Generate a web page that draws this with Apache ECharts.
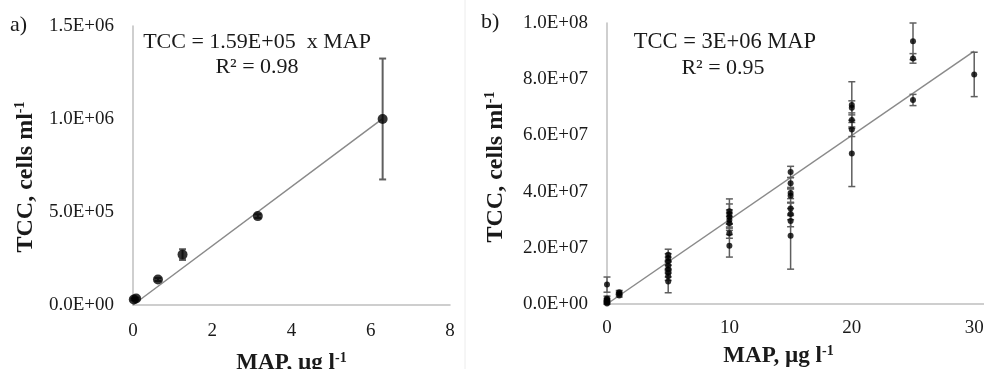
<!DOCTYPE html>
<html>
<head>
<meta charset="utf-8">
<script src="https://cdn.jsdelivr.net/npm/echarts@6/dist/echarts.min.js"></script>
<style>html,body{margin:0;padding:0;background:#fff;}#c{width:984px;height:369px;}</style>
</head>
<body>
<div id="c"></div>
<script>
// ---- Panel a data ----
const aX   = [0.02, 0.08, 0.63, 1.25, 3.15, 6.3];
const aY   = [3.0e4, 3.5e4, 1.37e5, 2.71e5, 4.78e5, 1.0e6];
const aErr = [5e3, 5e3, 8e3, 2.9e4, 1.0e4, 3.25e5];
const aSlope = 1.59e5;
const aFitX = [0, 6.3];
const aXTicks = [0, 2, 4, 6, 8];

// ---- Panel b data ----
const bX = [0,0,0,0,0,0, 1,1,1,
            5,5,5,5,5,5,5,5,
            10,10,10,10,10,10,10,
            15,15,15,15,15,15,15,15,
            20,20,20,20,20,
            25,25,25,
            30];
const bY = [6.9e6, 2.0e6, 1.5e6, 1.0e6, 0.5e6, 0.2e6, 4.2e6, 3.7e6, 3.0e6,
            17.5e6, 16.4e6, 15.2e6, 13.7e6, 12.4e6, 11.1e6, 9.9e6, 8.0e6,
            33.0e6, 32.0e6, 31.0e6, 29.9e6, 28.7e6, 25.2e6, 20.7e6,
            47.0e6, 43.0e6, 39.5e6, 38.5e6, 34.0e6, 32.0e6, 29.5e6, 24.3e6,
            70.8e6, 69.8e6, 65.5e6, 62.1e6, 53.6e6,
            93.5e6, 87.4e6, 72.6e6,
            81.7e6];
const bErr = [2.7e6, 0.8e6, 0.5e6, 0.5e6, 0.4e6, 0.3e6, 0.6e6, 0.5e6, 0.5e6,
              2.0e6, 1.5e6, 1.5e6, 1.5e6, 1.5e6, 1.5e6, 1.5e6, 4.0e6,
              4.4e6, 3.6e6, 2.5e6, 2.5e6, 2.5e6, 1.8e6, 4.0e6,
              2.0e6, 2.0e6, 2.0e6, 2.5e6, 2.0e6, 2.0e6, 2.0e6, 11.9e6,
              8.3e6, 2.5e6, 2.5e6, 2.5e6, 11.8e6,
              6.5e6, 1.7e6, 2.0e6,
              7.9e6];
const bSlope = 3e6;
const bFitX = [0, 30];

const FONT = 'Liberation Serif';
const TXT = '#1a1a1a';

function sci(v){
  if (v === 0) return '0.0E+00';
  const s = v.toExponential(1).toUpperCase();
  const m = s.match(/^(.*)E([+-])(\d+)$/);
  return m[1] + 'E' + m[2] + (m[3].length < 2 ? '0' + m[3] : m[3]);
}

function errRender(capHalf, lw){
  return function(params, api){
    const x = api.value(0), y = api.value(1), e = api.value(2);
    const t = api.coord([x, y + e]);
    const b = api.coord([x, y - e]);
    const st = {stroke: '#5f5f5f', lineWidth: lw};
    return {type: 'group', children: [
      {type: 'line', shape: {x1: t[0], y1: t[1], x2: b[0], y2: b[1]}, style: st},
      {type: 'line', shape: {x1: t[0]-capHalf, y1: t[1], x2: t[0]+capHalf, y2: t[1]}, style: st},
      {type: 'line', shape: {x1: b[0]-capHalf, y1: b[1], x2: b[0]+capHalf, y2: b[1]}, style: st}
    ]};
  };
}

const axisLineStyle = {show: true, lineStyle: {color: '#bfbfbf', width: 1.5}};
const labelStyle = {color: TXT, fontFamily: FONT, fontSize: 19};
function nameStyle(size, extra){
  return Object.assign({
    color: TXT, fontFamily: FONT, fontWeight: 'bold', fontSize: size,
    rich: {sup: {fontFamily: FONT, fontWeight: 'bold', fontSize: Math.round(size*0.6), verticalAlign: 'top', padding: [0,0,Math.round(size*0.45),0], color: TXT}}
  }, extra || {});
}

const chart = echarts.init(document.getElementById('c'), null, {renderer: 'canvas'});
const option = {
  backgroundColor: '#fff',
  animation: false,
  grid: [
    {left: 133, top: 26, width: 317, height: 279, containLabel: false, outerBoundsMode: 'none'},
    {left: 607, top: 23, right: 0, height: 281, containLabel: false, outerBoundsMode: 'none'}
  ],
  xAxis: [
    {gridIndex: 0, type: 'value', min: aXTicks[0], max: aXTicks[aXTicks.length-1], interval: 2,
     axisLine: axisLineStyle, axisTick: {show: false}, splitLine: {show: false},
     axisLabel: Object.assign({margin: 17}, labelStyle),
     name: 'MAP, µg l{sup|-1}', nameLocation: 'middle', nameGap: 46, nameTextStyle: nameStyle(23)},
    {gridIndex: 1, type: 'value', min: 0, max: 30.8, interval: 10,
     axisLine: axisLineStyle, axisTick: {show: false}, splitLine: {show: false},
     axisLabel: Object.assign({margin: 15, formatter: v => (v % 10 === 0 ? String(v) : '')}, labelStyle),
     name: 'MAP, µg l{sup|-1}', nameLocation: 'middle', nameGap: 40,
     nameTextStyle: nameStyle(23, {padding: [0, 34, 0, 0]})}
  ],
  yAxis: [
    {gridIndex: 0, type: 'value', min: 0, max: 1.5e6, interval: 5e5,
     axisLine: axisLineStyle, axisTick: {show: false}, splitLine: {show: false},
     axisLabel: Object.assign({margin: 19, formatter: sci}, labelStyle),
     name: 'TCC, cells ml{sup|-1}', nameLocation: 'middle', nameGap: 95, nameRotate: 90,
     nameTextStyle: nameStyle(24, {padding: [0, 23, 0, 0]})},
    {gridIndex: 1, type: 'value', min: 0, max: 1e8, interval: 2e7,
     axisLine: axisLineStyle, axisTick: {show: false}, splitLine: {show: false},
     axisLabel: Object.assign({margin: 19, formatter: sci}, labelStyle),
     name: 'TCC, cells ml{sup|-1}', nameLocation: 'middle', nameGap: 99, nameRotate: 90,
     nameTextStyle: nameStyle(24, {padding: [0, 7, 0, 0]})}
  ],
  series: [
    {type: 'line', xAxisIndex: 0, yAxisIndex: 0, data: aFitX.map(x => [x, aSlope * x]),
     showSymbol: false, lineStyle: {color: '#8a8a8a', width: 1.5}, z: 1},
    {type: 'custom', xAxisIndex: 0, yAxisIndex: 0, renderItem: errRender(3.5, 2),
     data: aX.map((x, i) => [x, aY[i], aErr[i]]), encode: {x: 0, y: 1}, z: 2},
    {type: 'scatter', xAxisIndex: 0, yAxisIndex: 0, symbolSize: 10,
     itemStyle: {color: '#000'}, data: aX.map((x, i) => [x, aY[i]]), z: 3},
    {type: 'line', xAxisIndex: 1, yAxisIndex: 1, data: bFitX.map(x => [x, bSlope * x]),
     showSymbol: false, lineStyle: {color: '#8a8a8a', width: 1.5}, z: 1},
    {type: 'custom', xAxisIndex: 1, yAxisIndex: 1, renderItem: errRender(3.5, 1.5),
     data: bX.map((x, i) => [x, bY[i], bErr[i]]), encode: {x: 0, y: 1}, z: 2},
    {type: 'scatter', xAxisIndex: 1, yAxisIndex: 1, symbolSize: 6,
     itemStyle: {color: '#000'}, data: bX.map((x, i) => [x, bY[i]]), z: 3}
  ],
  graphic: [
    {type: 'line', shape: {x1: 465, y1: 0, x2: 465, y2: 369}, style: {stroke: '#ececec', lineWidth: 1}},
    {type: 'text', style: {x: 10, y: 25, text: 'a)', font: '22px "Liberation Serif"', fill: TXT, textVerticalAlign: 'middle'}},
    {type: 'text', style: {x: 481, y: 22, text: 'b)', font: '22px "Liberation Serif"', fill: TXT, textVerticalAlign: 'middle'}},
    {type: 'text', style: {x: 257, y: 42, text: 'TCC = 1.59E+05  x MAP', font: '22px "Liberation Serif"', fill: TXT, textAlign: 'center', textVerticalAlign: 'middle'}},
    {type: 'text', style: {x: 257, y: 67, text: 'R² = 0.98', font: '22px "Liberation Serif"', fill: TXT, textAlign: 'center', textVerticalAlign: 'middle'}},
    {type: 'text', style: {x: 725, y: 42, text: 'TCC = 3E+06 MAP', font: '22.5px "Liberation Serif"', fill: TXT, textAlign: 'center', textVerticalAlign: 'middle'}},
    {type: 'text', style: {x: 723, y: 68, text: 'R² = 0.95', font: '22px "Liberation Serif"', fill: TXT, textAlign: 'center', textVerticalAlign: 'middle'}}
  ]
};
chart.setOption(option);
</script>
</body>
</html>
